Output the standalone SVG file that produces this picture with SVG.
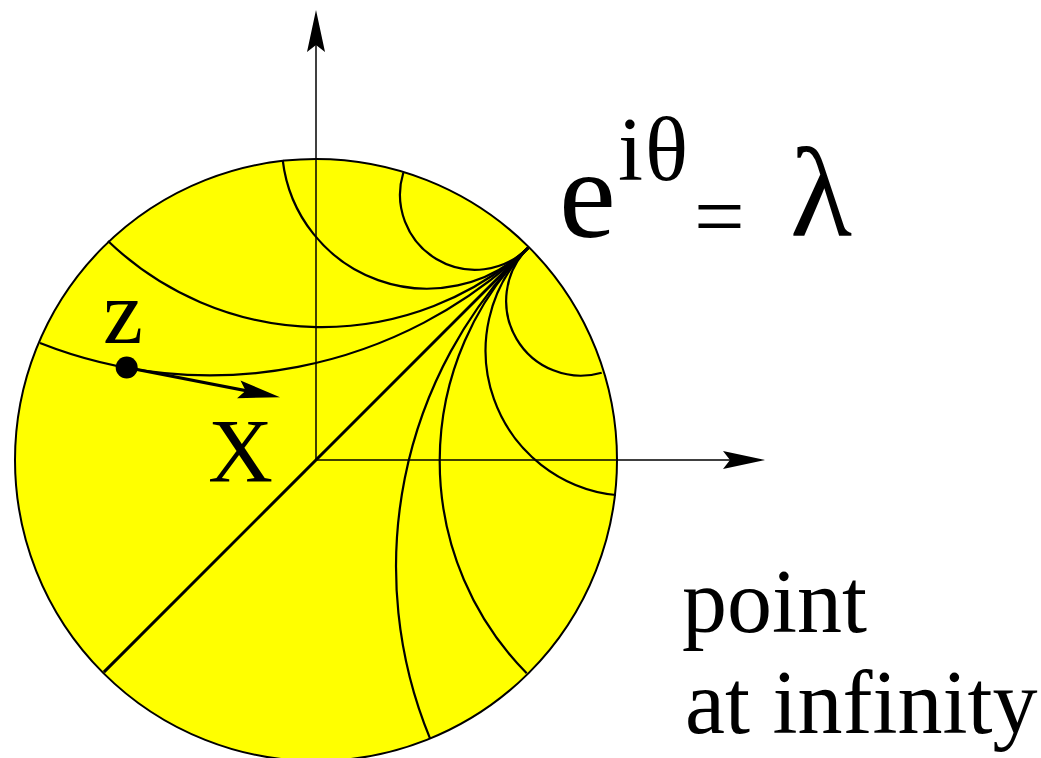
<svg xmlns="http://www.w3.org/2000/svg" width="1041" height="758" viewBox="0 0 1041 758">
<style>
.arc{fill:none;stroke:#000;stroke-width:2.2}
.axis{fill:none;stroke:#000;stroke-width:1.5}
text{font-family:'Liberation Serif','Times New Roman','DejaVu Serif',serif;fill:#000}
</style>
<defs>
<marker id="arr" viewBox="-33 -10 44 20" markerWidth="44" markerHeight="20" refX="0" refY="0" orient="auto" markerUnits="userSpaceOnUse">
<path d="M10,0 L-32,-9 L-25,0 L-32,9 Z" fill="#000"/>
</marker>
</defs>
<rect width="1041" height="758" fill="#fff"/>
<g id="disk">
<circle cx="316" cy="460" r="301" fill="#ffff00" stroke="#000" stroke-width="2"/>
</g>
<g id="geodesics">
<path class="arc" d="M108,241 A308.4,308.4 0 0 0 528.1,247.9"/>
<path class="arc" d="M40,343 A461.2,461.2 0 0 0 528.1,247.9"/>
<path class="arc" d="M282.7,160 A145.4,145.4 0 0 0 528.1,247.9"/>
<path class="arc" d="M403.3,172.7 A75.1,75.1 0 0 0 528.1,247.9"/>
<path class="arc" d="M528.1,247.9 A74.8,74.8 0 0 0 601.7,372.7"/>
<path class="arc" d="M528.1,247.9 A145.2,145.2 0 0 0 616,495"/>
<path class="arc" d="M528.1,247.9 A301.8,301.8 0 0 0 526.7,673.3"/>
<path class="arc" d="M528.1,247.9 A450.7,450.7 0 0 0 430,738.3"/>
<line x1="528.1" y1="247.9" x2="103.9" y2="672.1" stroke="#000" stroke-width="3"/>
</g>
<g id="axes">
<line class="axis" x1="316" y1="460" x2="316" y2="20" marker-end="url(#arr)"/>
<line class="axis" x1="316" y1="460" x2="755" y2="460" marker-end="url(#arr)"/>
</g>
<g id="tangent">
<circle cx="126.7" cy="367.5" r="11" fill="#000"/>
<line x1="126.7" y1="367.5" x2="270.2" y2="395.4" stroke="#000" stroke-width="3" marker-end="url(#arr)"/>
</g>
<g id="labels">
<text x="103" y="343" font-size="90">z</text>
<text x="208" y="482" font-size="90">X</text>
<text x="559" y="237" font-size="128">e</text>
<text x="618" y="180" font-size="90">i<tspan dx="2">θ</tspan></text>
<text x="694" y="247" font-size="90">=</text>
<text x="790" y="235" font-size="128">λ</text>
<text x="682" y="632" font-size="90">point</text>
<text x="685" y="733" font-size="90">at infinity</text>
</g>
</svg>
